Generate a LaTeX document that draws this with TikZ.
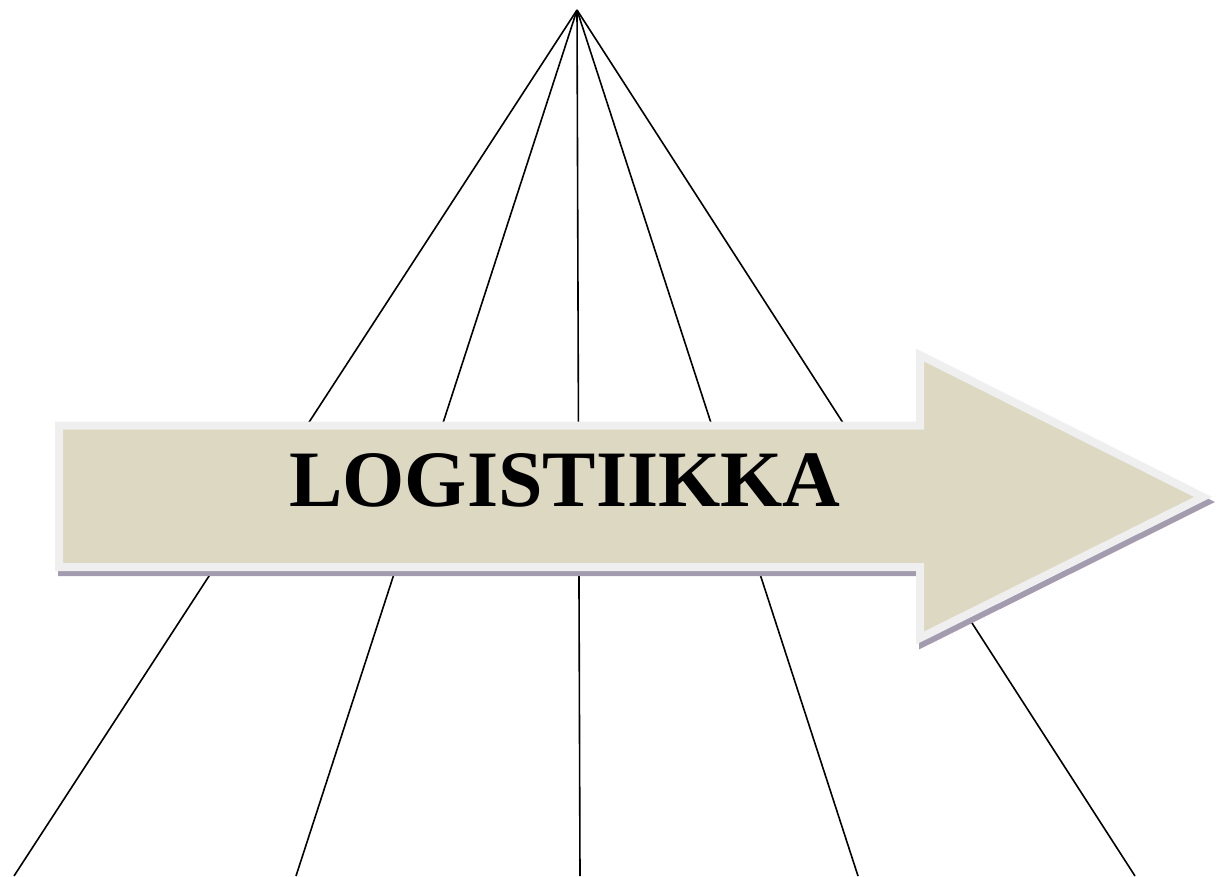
\documentclass[tikz,border=0pt]{standalone}
\usepackage{fontspec}
\setmainfont{Liberation Serif}
\begin{document}
\begin{tikzpicture}[x=1pt,y=-1pt,
  ray/.style={draw=black,line width=1.6pt},
  arrowbody/.style={fill=beige,draw=borderg,line width=8pt,line join=miter},
  arrowshadow/.style={fill=shadowc,draw=shadowc,line width=8pt,line join=miter},
  title/.style={font=\bfseries\fontsize{80}{80}\selectfont,text=black,inner sep=0pt}]
\definecolor{beige}{HTML}{DCD8C1}
\definecolor{borderg}{HTML}{EFEFEF}
\definecolor{shadowc}{HTML}{A29CAE}
\useasboundingbox (0,0) rectangle (1217,876);
\coordinate (apex) at (577,10);
\coordinate (b1) at (14,876);
\coordinate (b2) at (296,876);
\coordinate (b3) at (580,876);
\coordinate (b4) at (858,876);
\coordinate (b5) at (1135,876);
\foreach \b in {b1,b2,b3,b4,b5} \draw[ray] (apex) -- (\b);
\begin{scope}[shift={(3,5)}]
\path[arrowshadow] (59,425.5) -- (920,425.5) -- (920,355) -- (1203,497) -- (920,638) -- (920,567) -- (59,567) -- cycle;
\end{scope}
\path[arrowbody] (59,425.5) -- (920,425.5) -- (920,355) -- (1203,497) -- (920,638) -- (920,567) -- (59,567) -- cycle;
\node[title,anchor=base] (t) at (565,506) {LOGISTIIKKA};
\end{tikzpicture}
\end{document}
